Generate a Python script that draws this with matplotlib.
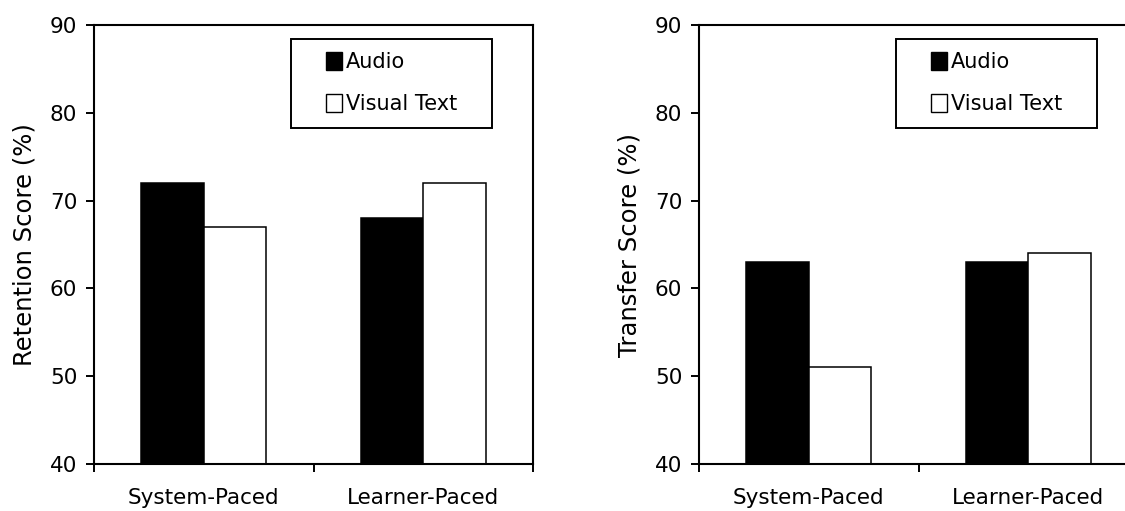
import matplotlib
matplotlib.use("Agg")
import matplotlib.pyplot as plt
from matplotlib.patches import Rectangle, Patch
import numpy as np

categories = ["System-Paced", "Learner-Paced"]
series_names = ["Audio", "Visual Text"]
retention_audio = [72, 68]
retention_visual = [67, 72]
transfer_audio = [63, 63]
transfer_visual = [51, 64]
y_ticks = [40, 50, 60, 70, 80, 90]
panel_ylabels = ["Retention Score (%)", "Transfer Score (%)"]

plt.rcParams['font.family'] = ['DejaVu Sans']
FS = 15

fig = plt.figure(figsize=(11.25, 5.11), dpi=100)
W, H = 1125, 511
axes_px = [(94, 25), (699, 25)]
aw, ah = 439, 439

panels = [(retention_audio, retention_visual), (transfer_audio, transfer_visual)]
x = np.arange(len(categories))
bw = 0.285

for i, ((a_vals, v_vals), (lx, ty)) in enumerate(zip(panels, axes_px)):
    ax = fig.add_axes([lx / W, (H - ty - ah) / H, aw / W, ah / H])
    ax.bar(x - bw / 2, np.array(a_vals) - 40, bw, bottom=40, color='black',
           edgecolor='black', linewidth=1.1, label=series_names[0])
    ax.bar(x + bw / 2, np.array(v_vals) - 40, bw, bottom=40, color='white',
           edgecolor='black', linewidth=1.1, label=series_names[1])
    ax.set_xlim(-0.5, 1.5)
    ax.set_ylim(40, 90)
    ax.set_yticks(y_ticks)
    ax.set_xticks(x)
    ax.set_xticklabels(categories, fontsize=FS + 0.5)
    ax.set_xticks([-0.5, 0.5, 1.5], minor=True)
    ax.tick_params(axis='x', which='major', length=0, pad=17.5)
    ax.tick_params(axis='x', which='minor', length=6, width=1.4, direction='out')
    ax.tick_params(axis='y', length=6, width=1.4, direction='out', pad=6, labelsize=FS + 0.5)
    for s in ax.spines.values():
        s.set_linewidth(1.5)
    ax.set_ylabel(panel_ylabels[i], fontsize=17.5, labelpad=10)

    # legend box
    box = Rectangle((0.449, 0.765), 0.458, 0.203, transform=ax.transAxes,
                    facecolor='white', edgecolor='black', linewidth=1.4, zorder=5)
    ax.add_patch(box)
    handles = [Patch(facecolor='black', edgecolor='black', linewidth=1.0),
               Patch(facecolor='white', edgecolor='black', linewidth=1.0)]
    leg = ax.legend(handles, series_names, loc='center', bbox_to_anchor=(0.678, 0.867),
                    frameon=False, fontsize=FS, handlelength=0.75, handleheight=0.95,
                    handletextpad=0.2, labelspacing=1.05, borderpad=0)
    leg.set_zorder(6)

fig.savefig("out.png", dpi=100)
